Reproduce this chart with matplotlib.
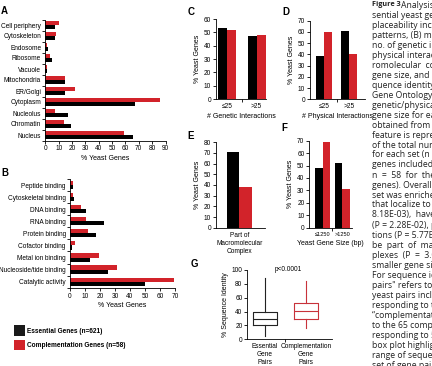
import numpy as np
import matplotlib
matplotlib.use('Agg')
import matplotlib.pyplot as plt
from matplotlib.patches import Patch

plt.rcParams['font.family'] = ['Liberation Sans', 'DejaVu Sans']

W, H = 432, 366
RED = '#d2232a'
BLACK = '#000000'
TICK_FS = 4.7
LAB_FS = 5.0

# A: localization
loc_cats = ['Cell periphery', 'Cytoskeleton', 'Endosome', 'Ribosome', 'Vacuole',
            'Mitochondria', 'ER/Golgi', 'Cytoplasm', 'Nucleolus', 'Chromatin', 'Nucleus']
loc_ess = [7, 7, 2, 5, 1.5, 14.5, 15, 67.5, 17, 19, 66]
loc_comp = [10, 8, 1.5, 3.5, 1.5, 15, 22, 86, 7, 14, 59]

# B: molecular function
func_cats = ['Peptide binding', 'Cytoskeletal binding', 'DNA binding', 'RNA binding',
             'Protein binding', 'Cofactor binding', 'Metal ion binding',
             'Nucleoside/tide binding', 'Catalytic activity']
func_ess = [1.8, 2.5, 10.5, 22.5, 17, 1.5, 13, 25, 50]
func_comp = [2.2, 2, 7, 10.5, 12, 3.5, 19, 31.5, 69]

# C-F
gen_labels = ['\u226425', '>25']
gen_ess = [53, 47]
gen_comp = [52, 48]
phys_labels = ['\u226425', '>25']
phys_ess = [39, 61]
phys_comp = [60, 40]
cplx_labels = ['Part of\nMacromolecular\nComplex']
cplx_ess = [71]
cplx_comp = [38]
size_labels = ['\u22641250', '>1250']
size_ess = [48, 52]
size_comp = [69, 31]

# G: sequence identity
box_labels = ['Essential\nGene\nPairs', 'Complementation\nGene\nPairs']
box_whislo = [5, 17]
box_q1 = [20, 29]
box_med = [29, 41]
box_q3 = [40, 53]
box_whishi = [89, 84]

caption_lines = [
    '', 'sential yeast genes for re-', 'placeability including (A) localization',
    'patterns, (B) molecular function, (C)', 'no. of genetic interactions, (D) no. of',
    'physical interactions, (E) mac-', 'romolecular  complexes, (F)',
    'gene size, and (G) se-', 'quence identity. (A and B)',
    'Gene Ontology terms, (C and D)', 'genetic/physical interactions, and (F)',
    'gene size for each set were', 'obtained from  SGD. Each',
    'feature is represented as a %', 'of the total number of genes',
    'for each set (n = 621 for', 'genes included in the screen,',
    'n  =  58  for  the complementing', 'genes). Overall, the complementing',
    'set was enriched for genes', 'that localize to the cytoplasm',
    '8.18E-03),  have fewer', '(P = 2.28E-02), physical interac-',
    'tions (P = 5.77E-04), are less', 'be  part  of  macromolecular',
    'plexes  (P  =  3.00E-02), and', 'smaller gene size (P = ',
    'For sequence identity, "essential', 'pairs" refers to the',
    'yeast pairs including the', 'responding to the',
    '\u201ccomplementation gene pairs\u201d', 'to the 65 complementing',
    'responding to 58 genes', 'box plot highlights the', 'range of sequence',
    'set of gene pairs',
]

fig = plt.figure(figsize=(W / 100, H / 100), dpi=100)


def add_ax(x0, y0, x1, y1):
    ax = fig.add_axes([x0 / W, 1 - y1 / H, (x1 - x0) / W, (y1 - y0) / H])
    for s in ['top', 'right']:
        ax.spines[s].set_visible(False)
    for s in ['left', 'bottom']:
        ax.spines[s].set_linewidth(0.6)
    ax.tick_params(labelsize=TICK_FS, width=0.6, length=2, pad=1.5)
    ax.tick_params(which='minor', width=0.6, length=2)
    return ax


def hbar_panel(box, cats, ess, comp, xmax, step):
    ax = add_ax(*box)
    n = len(cats)
    y = np.arange(n)[::-1]
    h = 0.34
    ax.barh(y - h / 2, ess, h, color=BLACK)
    ax.barh(y + h / 2, comp, h, color=RED)
    ax.set_ylim(-0.5, n - 0.5)
    ax.set_xlim(0, xmax)
    ax.set_xticks(np.arange(0, xmax + 1, step))
    ax.set_yticks(y)
    ax.set_yticklabels(cats)
    ax.set_yticks(np.arange(n + 1) - 0.5, minor=True)
    ax.tick_params(axis='y', which='major', length=0, pad=3)
    ax.set_xlabel('% Yeast Genes', fontsize=LAB_FS, labelpad=2)
    return ax


def vbar_panel(box, labels, ess, comp, ymax, xlim, width, xlabel=None, xfs=TICK_FS):
    ax = add_ax(*box)
    x = np.arange(len(labels))
    ax.bar(x - width / 2, ess, width, color=BLACK)
    ax.bar(x + width / 2, comp, width, color=RED)
    ax.set_ylim(0, ymax)
    ax.set_yticks(np.arange(0, ymax + 1, 10))
    ax.set_xlim(*xlim)
    ax.set_xticks(x)
    ax.set_xticklabels(labels, linespacing=1.2, fontsize=xfs)
    ax.tick_params(axis='x', which='major', length=0, pad=3)
    if len(labels) > 1:
        ax.set_xticks(x[:-1] + 0.5, minor=True)
    ax.set_ylabel('% Yeast Genes', fontsize=LAB_FS, labelpad=2)
    if xlabel:
        ax.set_xlabel(xlabel, fontsize=LAB_FS, labelpad=2)
    return ax


hbar_panel((45.3, 19.5, 165.5, 140.5), loc_cats, loc_ess, loc_comp, 90, 10)
hbar_panel((70, 179, 175, 287.7), func_cats, func_ess, func_comp, 70, 10)

vbar_panel((216, 19, 266, 99), gen_labels, gen_ess, gen_comp, 60,
           (-0.385, 1.32), 0.306, '# Genetic Interactions')
vbar_panel((310, 20.7, 365, 99.3), phys_labels, phys_ess, phys_comp, 70,
           (-0.56, 1.64), 0.33, '# Physical Interactions')
vbar_panel((216, 142.3, 265, 227.7), cplx_labels, cplx_ess, cplx_comp, 80,
           (-0.58, 0.64), 0.31)
vbar_panel((309.3, 140.7, 351.7, 227.7), size_labels, size_ess, size_comp, 70,
           (-0.68, 1.48), 0.39, 'Yeast Gene Size (bp)', xfs=4.1)

# G boxplot
axg = add_ax(247.3, 270, 331.7, 339.3)
stats = [dict(med=m, q1=a, q3=b, whislo=lo, whishi=hi, fliers=[])
         for m, a, b, lo, hi in zip(box_med, box_q1, box_q3, box_whislo, box_whishi)]
colors = ['#222222', '#c8323a']
for i, (st, c) in enumerate(zip(stats, colors)):
    axg.bxp([st], positions=[i + 1], widths=0.6, showcaps=False, showfliers=False,
            boxprops=dict(color=c, linewidth=0.8),
            whiskerprops=dict(color=c, linewidth=0.8),
            medianprops=dict(color=c, linewidth=0.8))
axg.set_xlim(0.57, 2.63)
axg.set_ylim(0, 100)
axg.set_yticks(np.arange(0, 101, 20))
axg.set_xticks([1, 2])
axg.set_xticklabels(box_labels, linespacing=1.2)
axg.set_xticks([1.5], minor=True)
axg.tick_params(axis='x', which='major', length=0, pad=3)
axg.set_ylabel('% Sequence Identity', fontsize=LAB_FS, labelpad=2)
axg.text(1.58, 96, 'p<0.0001', fontsize=TICK_FS, ha='center', va='bottom')

# panel letters
for letter, (px, py) in {'A': (1, 11), 'B': (1, 173), 'C': (188, 12), 'D': (282, 12),
                         'E': (187, 136), 'F': (281, 128), 'G': (191, 264)}.items():
    fig.text(px / W, 1 - py / H, letter, fontsize=7, fontweight='bold',
             ha='left', va='center')

# legend
handles = [Patch(facecolor='#1a1a1a'), Patch(facecolor=RED)]
fig.legend(handles, ['Essential Genes (n=621)', 'Complementation Genes (n=58)'],
           loc='upper left', bbox_to_anchor=(14 / W, 1 - 325 / H), frameon=False,
           prop=dict(size=4.7, weight='bold'), handlelength=1.7, handleheight=2.2,
           handletextpad=0.3, labelspacing=0.55, borderpad=0, borderaxespad=0)

# caption column (cut at the right edge)
cap_kw = dict(family=['Open Sans', 'DejaVu Sans'], color='#222222',
              va='center', ha='left')
fig.text(372 / W, 1 - 5 / H, 'Figure 3', fontweight='bold', fontsize=5.2, **cap_kw)
fig.text(401 / W, 1 - 5 / H, 'Analysis of es-', fontsize=6.2, **cap_kw)
for i, line in enumerate(caption_lines[1:], start=1):
    fig.text(372 / W, 1 - (5 + 10 * i) / H, line, fontsize=6.2, **cap_kw)

fig.savefig('out.png', dpi=100)
